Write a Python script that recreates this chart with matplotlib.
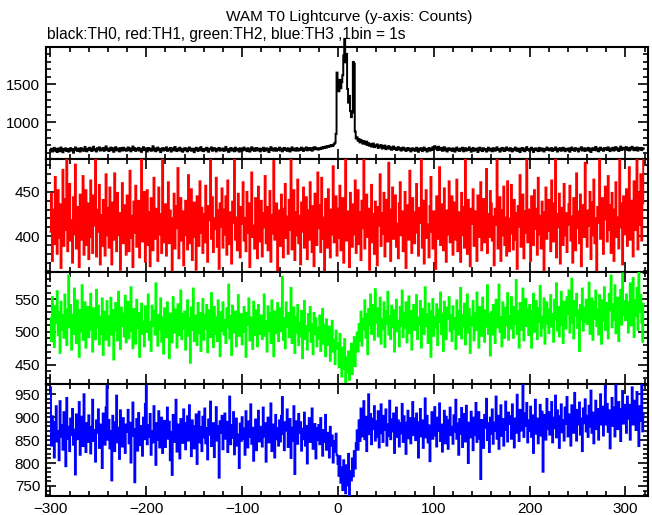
import numpy as np
import matplotlib
matplotlib.use("Agg")
import matplotlib.pyplot as plt
from matplotlib.ticker import MultipleLocator

plt.rcParams['font.family'] = ['Liberation Sans', 'DejaVu Sans']

t_start = -300
t_stop = 320
title = "WAM T0 Lightcurve (y-axis: Counts)"
subtitle = "black:TH0, red:TH1, green:TH2, blue:TH3 ,1bin = 1s"
x_ticks = [-300, -200, -100, 0, 100, 200, 300]

th0 = [
632, 655, 618, 641, 667, 629, 648, 612, 659, 637, 622, 671, 644, 609, 653, 636, 660, 625, 648, 617,
645, 663, 630, 651, 603, 639, 672, 648, 626, 657, 641, 618, 664, 635, 652, 628, 679, 643, 621, 656,
638, 668, 646, 625, 659, 681, 634, 650, 619, 662, 644, 673, 631, 655, 640, 666, 627, 652, 686, 639,
657, 624, 648, 670, 636, 661, 615, 647, 675, 633, 658, 642, 620, 664, 649, 631, 669, 640, 655, 628,
646, 672, 635, 659, 621, 650, 684, 638, 662, 626, 653, 641, 667, 630, 656, 614, 648, 676, 637, 660,
643, 619, 665, 639, 657, 628, 651, 688, 634, 660, 622, 647, 670, 636, 654, 611, 645, 663, 632, 658,
640, 674, 627, 652, 637, 666, 618, 649, 661, 633, 678, 646, 624, 655, 639, 669, 630, 653, 616, 644,
662, 635, 658, 621, 647, 671, 640, 629, 656, 644, 610, 652, 667, 638, 626, 659, 643, 677, 631, 650,
623, 654, 641, 668, 634, 615, 657, 645, 672, 628, 649, 663, 637, 620, 655, 642, 666, 630, 651, 639,
658, 626, 644, 679, 635, 652, 613, 648, 664, 631, 657, 640, 622, 669, 646, 633, 654, 617, 661, 642,
629, 656, 671, 638, 650, 624, 662, 645, 618, 653, 674, 636, 659, 627, 648, 665, 632, 641, 657, 620,
651, 639, 668, 625, 646, 660, 634, 655, 612, 649, 676, 637, 658, 630, 643, 663, 628, 652, 640, 670,
633, 657, 621, 648, 666, 639, 654, 627, 661, 644, 619, 650, 673, 635, 656, 642, 629, 664, 647, 631,
655, 638, 669, 645, 626, 659, 641, 672, 634, 651, 663, 640, 657, 629, 668, 646, 675, 652, 661, 644,
648, 663, 655, 671, 659, 677, 664, 683, 670, 688, 679, 694, 686, 702, 690, 698, 716, 735, 850, 1655,
1480, 1410, 1560, 1450, 1530, 1620, 1880, 2090, 1790, 1900, 1440, 1260, 1350, 1150, 1070, 1130, 1795, 1770, 880, 790,
805, 760, 782, 738, 771, 745, 722, 756, 731, 714, 748, 703, 727, 695, 719, 684, 708, 723, 676, 699,
688, 712, 665, 694, 680, 703, 658, 686, 671, 697, 649, 678, 662, 690, 655, 673, 641, 668, 684, 652,
667, 638, 659, 676, 645, 662, 631, 654, 670, 641, 658, 626, 649, 665, 637, 656, 620, 647, 661, 634,
652, 629, 668, 643, 615, 657, 639, 662, 624, 648, 671, 636, 653, 618, 645, 664, 630, 655, 641, 676,
648, 689, 659, 672, 637, 681, 655, 640, 667, 628, 652, 675, 633, 658, 619, 646, 663, 638, 651, 627,
660, 642, 617, 654, 671, 635, 649, 626, 658, 643, 668, 621, 647, 662, 630, 653, 639, 673, 644, 616,
650, 666, 628, 645, 637, 659, 612, 648, 670, 634, 656, 624, 661, 641, 652, 618, 647, 669, 632, 655,
640, 621, 663, 646, 629, 657, 674, 638, 651, 617, 644, 666, 633, 659, 625, 648, 672, 639, 654, 630,
662, 645, 620, 653, 636, 671, 649, 627, 658, 643, 611, 650, 665, 634, 657, 622, 646, 677, 638, 652,
628, 655, 669, 641, 613, 648, 660, 635, 654, 624, 667, 642, 631, 659, 646, 619, 653, 638, 671, 644,
657, 633, 648, 664, 626, 651, 639, 672, 645, 618, 656, 637, 662, 629, 650, 668, 641, 623, 655, 647,
634, 660, 616, 645, 671, 638, 653, 627, 664, 642, 651, 619, 658, 644, 675, 632, 649, 661, 626, 654,
641, 667, 630, 656, 612, 647, 663, 637, 652, 679, 633, 658, 621, 645, 670, 640, 655, 628, 661, 646,
662, 639, 673, 650, 624, 657, 644, 668, 631, 654, 677, 642, 659, 625, 651, 683, 638, 663, 647, 669,
653, 676, 640, 661, 632, 668, 647, 681, 656, 635, 663, 645, 672, 630, 658, 649, 666, 637, 654, 660,
]

th1 = [
405, 448, 372, 430, 391, 467, 413, 380, 452, 398, 436, 364, 421, 475, 389, 442, 407, 491, 383, 426,
459, 395, 418, 370, 444, 402, 481, 386, 433, 412, 365, 447, 396, 428, 468, 379, 415, 452, 390, 437,
374, 421, 463, 399, 381, 446, 412, 493, 377, 430, 405, 458, 368, 424, 389, 441, 414, 378, 470, 401,
432, 387, 455, 410, 368, 438, 396, 471, 419, 383, 449, 401, 426, 362, 416, 460, 392, 435, 407, 379,
446, 411, 383, 474, 398, 423, 365, 439, 404, 457, 388, 417, 440, 376, 429, 495, 394, 413, 450, 371,
418, 452, 390, 427, 366, 443, 409, 384, 466, 397, 431, 412, 372, 455, 402, 425, 381, 488, 415, 393,
436, 378, 414, 461, 392, 429, 403, 358, 420, 448, 386, 434, 409, 477, 375, 419, 443, 395, 428, 367,
401, 440, 422, 385, 469, 411, 392, 453, 373, 426, 438, 399, 362, 445, 416, 389, 462, 404, 432, 381,
425, 393, 457, 407, 371, 434, 418, 486, 397, 444, 382, 420, 408, 466, 388, 429, 363, 437, 411, 454,
387, 430, 402, 445, 379, 463, 410, 391, 427, 369, 439, 415, 498, 396, 421, 384, 448, 406, 376, 433,
414, 461, 395, 420, 383, 450, 404, 437, 365, 428, 472, 399, 412, 386, 443, 408, 375, 456, 419, 394,
440, 377, 426, 410, 468, 392, 433, 384, 415, 451, 371, 424, 403, 485, 396, 418, 437, 361, 429, 406,
389, 447, 412, 376, 431, 459, 398, 422, 380, 441, 407, 490, 385, 416, 452, 373, 427, 401, 464, 392,
423, 368, 438, 405, 455, 387, 417, 444, 374, 429, 396, 461, 411, 382, 434, 366, 448, 413, 390, 472,
409, 435, 382, 466, 397, 421, 359, 442, 408, 387, 453, 414, 376, 430, 402, 479, 393, 426, 445, 378,
431, 398, 457, 384, 419, 443, 370, 412, 487, 395, 428, 406, 365, 449, 417, 388, 436, 402, 463, 381,
416, 452, 391, 427, 373, 440, 409, 496, 386, 422, 447, 399, 431, 362, 414, 458, 393, 425, 380, 439,
400, 367, 433, 412, 470, 389, 426, 403, 449, 377, 418, 441, 394, 483, 407, 372, 430, 455, 397, 421,
446, 388, 414, 375, 437, 461, 401, 428, 383, 419, 450, 364, 411, 435, 396, 474, 408, 381, 443, 417,
392, 427, 459, 404, 378, 432, 415, 490, 387, 440, 369, 421, 452, 398, 413, 376, 434, 467, 405, 386,
428, 411, 363, 445, 397, 420, 478, 390, 436, 407, 384, 454, 416, 371, 429, 402, 462, 393, 425, 445,
379, 438, 418, 396, 464, 383, 427, 410, 371, 449, 401, 433, 387, 495, 412, 380, 441, 420, 366, 431,
414, 453, 389, 428, 405, 372, 446, 399, 435, 461, 384, 418, 442, 393, 407, 476, 381, 425, 399, 451,
437, 395, 422, 367, 431, 413, 488, 386, 417, 444, 372, 429, 401, 456, 390, 421, 378, 462, 409, 383,
420, 458, 403, 385, 441, 396, 426, 363, 434, 411, 469, 388, 415, 447, 375, 428, 404, 492, 393, 430,
398, 372, 445, 417, 390, 452, 408, 431, 379, 466, 402, 423, 386, 439, 412, 361, 427, 455, 397, 418,
441, 406, 383, 463, 414, 394, 437, 489, 376, 425, 410, 448, 369, 432, 417, 390, 459, 401, 426, 382,
413, 436, 457, 395, 422, 370, 443, 405, 384, 471, 409, 428, 392, 447, 366, 418, 435, 399, 483, 407,
388, 429, 412, 450, 374, 438, 401, 464, 392, 420, 358, 433, 415, 487, 397, 426, 443, 380, 419, 456,
423, 394, 468, 407, 435, 381, 449, 416, 372, 430, 461, 399, 421, 386, 494, 410, 437, 368, 445, 414,
402, 453, 389, 426, 478, 396, 418, 440, 377, 462, 407, 431, 491, 385, 449, 413, 470, 395, 437, 488,
]

th2 = [
521, 486, 553, 508, 477, 539, 514, 562, 495, 530, 468, 546, 503, 525, 491, 557, 512, 480, 534, 586,
507, 541, 473, 526, 497, 566, 510, 483, 548, 519, 462, 533, 501, 571, 488, 522, 545, 476, 514, 538,
492, 529, 558, 503, 470, 536, 518, 489, 564, 507, 540, 481, 523, 497, 551, 465, 531, 512, 488, 547,
524, 479, 513, 552, 496, 533, 458, 520, 544, 502, 487, 561, 515, 474, 537, 509, 528, 493, 555, 484,
511, 546, 490, 527, 568, 501, 475, 535, 514, 482, 549, 506, 529, 462, 520, 543, 497, 516, 478, 539,
500, 523, 557, 488, 515, 471, 540, 509, 532, 496, 574, 513, 479, 526, 504, 551, 485, 522, 467, 536,
518, 492, 545, 506, 460, 528, 512, 484, 553, 499, 534, 519, 476, 542, 495, 516, 563, 489, 527, 505,
531, 473, 510, 548, 494, 521, 453, 537, 503, 566, 486, 525, 512, 480, 544, 498, 529, 471, 517, 550,
488, 526, 505, 541, 469, 533, 515, 492, 559, 508, 477, 538, 497, 522, 486, 548, 511, 463, 530, 502,
545, 496, 518, 483, 536, 507, 572, 490, 524, 465, 540, 513, 499, 531, 478, 519, 556, 494, 506, 527,
481, 515, 538, 500, 462, 529, 511, 551, 487, 522, 503, 474, 546, 495, 533, 509, 478, 541, 513, 497,
525, 489, 507, 557, 494, 516, 470, 539, 502, 528, 483, 548, 511, 463, 531, 498, 520, 544, 486, 509,
536, 501, 584, 488, 521, 475, 545, 508, 529, 492, 516, 567, 483, 510, 537, 468, 523, 499, 541, 480,
514, 493, 532, 460, 518, 547, 489, 509, 473, 527, 502, 538, 485, 512, 466, 529, 497, 521, 478, 506,
490, 525, 471, 503, 535, 482, 511, 463, 519, 496, 480, 508, 456, 493, 517, 470, 488, 451, 502, 474,
483, 446, 497, 458, 432, 476, 444, 489, 423, 461, 438, 470, 427, 452, 482, 436, 465, 492, 448, 478,
499, 470, 512, 486, 531, 479, 520, 504, 548, 491, 527, 466, 535, 510, 557, 497, 522, 541, 488, 565,
514, 536, 493, 528, 552, 482, 519, 504, 545, 477, 531, 512, 561, 496, 524, 489, 540, 507, 533, 470,
526, 549, 501, 517, 478, 538, 510, 563, 492, 529, 506, 545, 484, 520, 554, 498, 532, 473, 515, 541,
503, 530, 556, 489, 522, 511, 547, 476, 535, 518, 497, 568, 509, 527, 483, 543, 515, 462, 531, 550,
494, 523, 507, 542, 480, 534, 515, 560, 497, 528, 471, 546, 511, 489, 537, 520, 553, 501, 525, 486,
539, 505, 521, 474, 548, 513, 496, 532, 567, 490, 526, 508, 543, 481, 518, 557, 499, 535, 468, 522,
510, 547, 487, 529, 503, 560, 519, 476, 538, 512, 494, 552, 521, 485, 533, 508, 571, 497, 527, 464,
530, 496, 541, 515, 483, 549, 507, 534, 572, 500, 522, 478, 545, 516, 491, 537, 510, 559, 488, 524,
505, 553, 520, 491, 538, 512, 579, 497, 531, 476, 544, 518, 503, 566, 487, 528, 550, 509, 534, 495,
541, 511, 476, 532, 558, 500, 525, 547, 489, 536, 515, 570, 494, 523, 507, 551, 482, 529, 545, 513,
498, 534, 556, 508, 527, 485, 549, 519, 574, 502, 538, 493, 529, 561, 511, 483, 546, 524, 505, 553,
527, 563, 499, 536, 581, 514, 490, 547, 525, 558, 506, 533, 471, 541, 519, 566, 502, 537, 515, 549,
512, 539, 575, 497, 530, 551, 488, 545, 520, 563, 509, 534, 496, 556, 527, 482, 548, 517, 568, 503,
544, 521, 490, 558, 533, 586, 507, 542, 519, 571, 498, 536, 552, 486, 529, 564, 511, 589, 526, 547,
518, 557, 532, 499, 545, 574, 510, 538, 582, 492, 548, 525, 567, 503, 590, 531, 556, 514, 485, 543,
]

th3 = [
965, 838, 902, 861, 812, 889, 924, 847, 870, 806, 935, 858, 883, 829, 911, 867, 793, 942, 853, 879,
826, 897, 861, 918, 840, 873, 775, 906, 852, 889, 933, 818, 866, 901, 837, 950, 859, 824, 887, 846,
904, 857, 821, 879, 938, 848, 872, 803, 893, 866, 917, 833, 884, 856, 789, 908, 874, 840, 921, 968,
851, 894, 832, 870, 762, 903, 862, 826, 889, 947, 845, 877, 809, 915, 859, 836, 898, 871, 822, 884,
868, 916, 843, 888, 801, 859, 932, 874, 758, 850, 896, 827, 909, 863, 839, 881, 816, 899, 852, 929,
968, 841, 883, 857, 907, 818, 870, 845, 924, 862, 796, 887, 851, 913, 834, 876, 899, 822, 866, 892,
835, 879, 921, 853, 890, 806, 868, 774, 905, 846, 861, 938, 825, 884, 857, 810, 896, 871, 844, 917,
887, 830, 864, 902, 849, 926, 872, 815, 893, 858, 832, 880, 906, 798, 869, 912, 845, 878, 826, 901,
856, 919, 843, 876, 808, 895, 862, 934, 837, 871, 887, 813, 858, 922, 849, 880, 768, 891, 866, 903,
830, 873, 908, 853, 890, 824, 867, 945, 841, 883, 855, 911, 819, 874, 897, 838, 862, 789, 886, 848,
900, 852, 875, 818, 913, 866, 834, 891, 857, 928, 842, 877, 805, 869, 895, 828, 881, 914, 847, 862,
879, 836, 921, 858, 887, 803, 866, 899, 845, 873, 930, 826, 861, 884, 812, 905, 852, 876, 838, 893,
847, 903, 944, 863, 828, 889, 871, 917, 835, 858, 896, 811, 877, 849, 924, 776, 868, 891, 842, 907,
866, 889, 827, 875, 852, 910, 838, 881, 799, 864, 898, 846, 872, 919, 831, 857, 885, 810, 876, 850,
883, 841, 898, 857, 816, 872, 846, 905, 829, 866, 851, 812, 879, 838, 860, 801, 848, 825, 864, 817,
798, 772, 815, 757, 790, 741, 806, 766, 734, 795, 751, 820, 729, 782, 762, 810, 771, 826, 788, 843,
871, 829, 893, 848, 919, 858, 884, 935, 852, 901, 826, 889, 950, 863, 907, 841, 897, 874, 924, 849,
891, 857, 913, 834, 879, 928, 865, 846, 903, 872, 917, 838, 884, 859, 936, 852, 895, 869, 908, 822,
876, 921, 857, 893, 836, 887, 865, 929, 846, 902, 873, 820, 888, 914, 854, 898, 843, 879, 933, 861,
897, 850, 908, 871, 812, 889, 918, 858, 893, 833, 877, 941, 856, 903, 845, 882, 804, 870, 911, 853,
889, 922, 860, 836, 899, 870, 930, 848, 884, 825, 867, 914, 843, 901, 876, 831, 893, 921, 861, 879,
842, 904, 869, 938, 853, 886, 818, 896, 864, 920, 835, 878, 907, 847, 925, 868, 800, 888, 856, 912,
873, 828, 899, 861, 931, 846, 882, 911, 853, 765, 894, 868, 833, 905, 877, 940, 850, 887, 824, 899,
864, 917, 842, 888, 870, 945, 853, 903, 831, 880, 926, 859, 896, 838, 889, 934, 872, 847, 910, 885,
902, 853, 928, 876, 834, 897, 866, 949, 884, 848, 916, 871, 899, 971, 857, 908, 881, 931, 845, 893,
870, 923, 857, 904, 822, 888, 938, 864, 897, 843, 880, 927, 860, 912, 781, 886, 905, 851, 940, 874,
911, 862, 890, 933, 845, 899, 876, 947, 856, 915, 884, 833, 902, 928, 867, 893, 849, 921, 886, 944,
858, 906, 880, 838, 926, 891, 866, 953, 901, 849, 916, 884, 932, 862, 897, 826, 919, 887, 939, 869,
903, 857, 925, 880, 958, 866, 910, 843, 893, 936, 874, 918, 851, 902, 950, 884, 923, 860, 907, 968,
884, 929, 868, 915, 832, 897, 942, 881, 921, 858, 970, 903, 874, 933, 891, 848, 918, 957, 886, 927,
908, 866, 945, 897, 927, 851, 913, 965, 884, 936, 899, 872, 955, 915, 837, 924, 892, 971, 869, 906,
]

series = [th0, th1, th2, th3]
colors = ['black', '#ff0000', '#00ff00', '#0000ff']
ylims = [(517, 1991), (360, 487), (421, 592), (728, 973)]
ymajor = [500, 50, 50, 50]
yminor = [100, 10, 10, 10]

t = np.arange(t_start, t_stop)

W, H = 652, 515
fig = plt.figure(figsize=(W / 100, H / 100), dpi=100)

left = 45.7 / W
right = 648 / W
top = 1 - 47 / H
bottom = 1 - 496 / H
ph = (top - bottom) / 4

for i, (y, c, yl, ymj, ymn) in enumerate(zip(series, colors, ylims, ymajor, yminor)):
    ax = fig.add_axes([left, top - (i + 1) * ph, right - left, ph])
    ax.plot(t, y, color=c, lw=1.4, drawstyle='steps-mid',
            clip_on=(i != 0), zorder=3, solid_joinstyle='miter')
    ax.set_xlim(-305, 323.5)
    ax.set_ylim(*yl)
    ax.xaxis.set_major_locator(MultipleLocator(100))
    ax.xaxis.set_minor_locator(MultipleLocator(20))
    ax.yaxis.set_major_locator(MultipleLocator(ymj))
    ax.yaxis.set_minor_locator(MultipleLocator(ymn))
    ax.tick_params(which='both', direction='in', top=True, right=True,
                   width=1.2, colors='black', labelsize=11)
    ax.tick_params(which='major', length=7, pad=4)
    ax.tick_params(which='minor', length=3.5)
    for s in ax.spines.values():
        s.set_linewidth(1.5)
    if i < 3:
        ax.tick_params(labelbottom=False)
    else:
        ax.set_xticks(x_ticks)
        ax.set_xticklabels(['\u2212' + str(abs(v)) if v < 0 else str(v) for v in x_ticks])

fig.text(0.535, 1 - 17 / H, title, ha='center', va='center', fontsize=11.1)
fig.text(47 / W, 1 - 35 / H, subtitle, ha='left', va='center', fontsize=11.2)

fig.savefig('out.png', dpi=100)
